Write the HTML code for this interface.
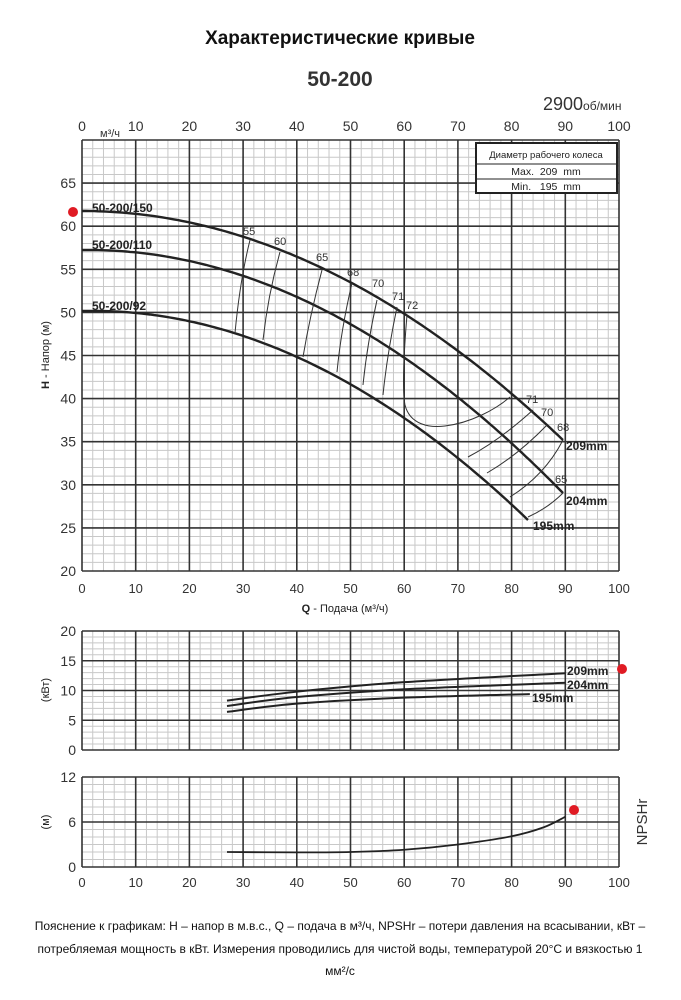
<!DOCTYPE html>
<html><head><meta charset="utf-8">
<style>
body{margin:0;background:#fff;width:681px;height:1000px;overflow:hidden;font-family:"Liberation Sans",sans-serif;}
svg{position:absolute;left:0;top:0}
</style></head><body>
<svg id="s" width="681" height="1000" xmlns="http://www.w3.org/2000/svg" font-family="Liberation Sans, sans-serif">
<text x="340" y="44" text-anchor="middle" font-size="19" font-weight="bold" fill="#111">Характеристические кривые</text>
<text x="340" y="86" text-anchor="middle" font-size="21" font-weight="bold" fill="#333">50-200</text>
<text x="543" y="110" font-size="18" fill="#333">2900<tspan font-size="12">об/мин</tspan></text>
<text x="100" y="137" font-size="11" fill="#333">м³/ч</text>
<text transform="translate(49,355) rotate(-90)" text-anchor="middle" font-size="11" fill="#222"><tspan font-weight="bold">H</tspan> - Напор (м)</text>
<text x="345" y="612" text-anchor="middle" font-size="11" fill="#222"><tspan font-weight="bold">Q</tspan> - Подача (м³/ч)</text>
<text transform="translate(49,690) rotate(-90)" text-anchor="middle" font-size="11" fill="#222">(кВт)</text>
<text transform="translate(49,822) rotate(-90)" text-anchor="middle" font-size="11" fill="#222">(м)</text>
<text transform="translate(647,822) rotate(-90)" text-anchor="middle" font-size="15" fill="#333">NPSHr</text>
<g id="g"></g>
<rect x="476" y="143" width="141" height="50" fill="#fff" stroke="#222" stroke-width="2"/>
<line x1="476" y1="164" x2="617" y2="164" stroke="#222"/>
<line x1="476" y1="179" x2="617" y2="179" stroke="#222"/>
<text x="546" y="158" text-anchor="middle" font-size="9.5" fill="#222">Диаметр рабочего колеса</text>
<text x="546" y="175" text-anchor="middle" font-size="10.5" fill="#222">Max.&#160; 209&#160; mm</text>
<text x="546" y="190" text-anchor="middle" font-size="10.5" fill="#222">Min.&#160;&#160; 195&#160; mm</text>
<g font-size="12" font-weight="bold" fill="#222">
<text x="92" y="212">50-200/150</text>
<text x="92" y="249">50-200/110</text>
<text x="92" y="310">50-200/92</text>
<text x="566" y="450">209mm</text>
<text x="566" y="505">204mm</text>
<text x="533" y="530">195mm</text>
<text x="567" y="675">209mm</text>
<text x="567" y="689">204mm</text>
<text x="532" y="702">195mm</text>
</g>
<g font-size="11" fill="#333">
<text x="243" y="235">55</text><text x="274" y="245">60</text><text x="316" y="261">65</text>
<text x="347" y="276">68</text><text x="372" y="287">70</text><text x="392" y="300">71</text><text x="406" y="309">72</text>
<text x="526" y="403">71</text><text x="541" y="416">70</text><text x="557" y="431">68</text><text x="555" y="483">65</text>
</g>
<circle cx="73" cy="212" r="5" fill="#e01b24"/>
<circle cx="622" cy="669" r="5" fill="#e01b24"/>
<circle cx="574" cy="810" r="5" fill="#e01b24"/>
<text x="340" y="930" text-anchor="middle" font-size="12" fill="#111">Пояснение к графикам: H – напор в м.в.с., Q – подача в м³/ч, NPSHr – потери давления на всасывании, кВт –</text>
<text x="340" y="953" text-anchor="middle" font-size="12" fill="#111">потребляемая мощность в кВт. Измерения проводились для чистой воды, температурой 20°C и вязкостью 1</text>
<text x="340" y="975" text-anchor="middle" font-size="12" fill="#111">мм²/с</text>
</svg>
<script>
var g=document.getElementById('g'),h='';
var X0=82,X1=619;function px(q){return X0+(X1-X0)*q/100;}
function L(x1,y1,x2,y2,c,w){h+='<line x1="'+x1+'" y1="'+y1+'" x2="'+x2+'" y2="'+y2+'" stroke="'+c+'" stroke-width="'+w+'"/>';}
function T(x,y,t,a,s){h+='<text x="'+x+'" y="'+y+'" text-anchor="'+a+'" font-size="'+(s||14)+'" fill="#333">'+t+'</text>';}
function grid(top,bot,vmin,vmax,minor,major){
 var n=(vmax-vmin)/minor;
 for(var q=0;q<=100;q+=2){if(q%10)L(px(q),top,px(q),bot,'#c8c8c8',1);}
 for(var i=0;i<=n;i++){var v=vmin+i*minor;var y=bot-(bot-top)*i/n;if(Math.abs(v/major-Math.round(v/major))>1e-6)L(X0,y,X1,y,'#c8c8c8',1);}
 for(var i=0;i<=n;i++){var v=vmin+i*minor;var y=bot-(bot-top)*i/n;if(Math.abs(v/major-Math.round(v/major))<1e-6){L(X0,y,X1,y,'#333',1.6);}}
 for(var q=0;q<=100;q+=10)L(px(q),top,px(q),bot,'#333',1.6);
}
grid(140,571,20,70,1,5);
for(var v=20;v<=65;v+=5){var y=571-(v-20)*8.62;T(76,y+5,v,'end',14);}
for(var q=0;q<=100;q+=10){T(px(q),131,q,'middle',14);T(px(q),593,q,'middle',13);}
grid(631,750,0,20,1,5);
for(var v=0;v<=20;v+=5){T(76,750-v*5.95+5,v,'end',14);}
grid(777,867,0,12,1,6);
for(var v=0;v<=12;v+=6){T(76,867-v*7.5+5,v,'end',14);}
for(var q=0;q<=100;q+=10)T(px(q),887,q,'middle',13);
function cr(p){var d='M'+p[0][0]+','+p[0][1];for(var i=0;i<p.length-1;i++){var a=p[i-1]||p[i],b=p[i],c=p[i+1],e=p[i+2]||c;
 d+=' C'+(b[0]+(c[0]-a[0])/6)+','+(b[1]+(c[1]-a[1])/6)+' '+(c[0]-(e[0]-b[0])/6)+','+(c[1]-(e[1]-b[1])/6)+' '+c[0]+','+c[1];}return d;}
function P(p,w){h+='<path d="'+cr(p)+'" fill="none" stroke="#222" stroke-width="'+w+'"/>';}
function F(y0,a,b,xe,w){var p=[];for(var x=82;x<xe;x+=4){var d=x-82;p.push([x,(y0+a*d+b*d*d).toFixed(1)]);}var d=xe-82;p.push([xe,(y0+a*d+b*d*d).toFixed(1)]);
 h+='<polyline points="'+p.join(' ')+'" fill="none" stroke="#222" stroke-width="'+w+'"/>';}
F(211,0,0.00099,563,2.4);
F(250,-0.0132,0.001078,563,2.4);
F(311,-0.0231,0.0011026,528,2.4);
var e=[[[250,240],[240,280],[235,333]],[[280,252],[268,295],[263,340]],[[322,270],[310,315],[303,357]],[[352,283],[341,330],[337,372]],[[377,300],[367,345],[363,385]],[[397,307],[387,355],[383,395]],
[[533,410],[500,440],[468,457]],[[547,425],[518,455],[487,473]],[[563,440],[545,475],[510,497]],[[563,493],[548,508],[528,517]]];
e.forEach(function(a){h+='<path d="M'+a[0]+' Q'+a[1]+' '+a[2]+'" fill="none" stroke="#333" stroke-width="1"/>';});
h+='<path d="M407,315 C404,350 402,390 405,405 C410,425 430,428 445,426 C470,423 495,410 510,397" fill="none" stroke="#333" stroke-width="1"/>';
function pw(pts){return pts.map(function(a){return [px(a[0]),750-a[1]*5.95];});}
P(pw([[27,8.3],[40,9.8],[60,11.4],[90,12.9]]),2);
P(pw([[27,7.4],[40,8.9],[60,10.2],[90,11.3]]),2);
P(pw([[27,6.4],[40,7.8],[60,8.8],[83.4,9.4]]),2);
function np(pts){return pts.map(function(a){return [px(a[0]),867-a[1]*7.5];});}
P(np([[27,2.0],[40,1.95],[50,2.0],[60,2.3],[70,3.0],[80,4.1],[86,5.3],[90,6.7]]),1.8);
g.innerHTML=h;
</script>
</body></html>
